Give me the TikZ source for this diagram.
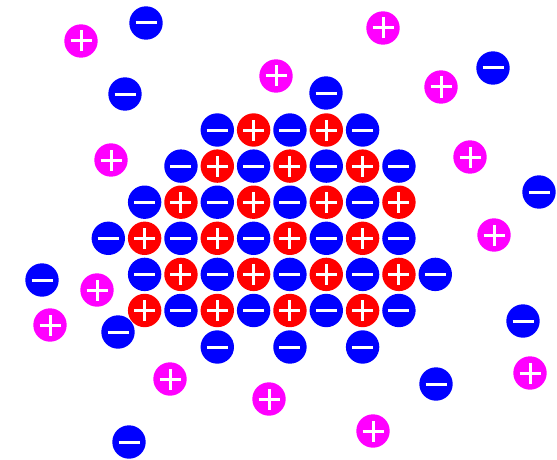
\documentclass[tikz,border=0pt]{standalone}
\usetikzlibrary{calc}
\definecolor{ionblue}{RGB}{0,0,255}\definecolor{ionred}{RGB}{255,0,0}\definecolor{ionmag}{RGB}{255,0,255}
\tikzset{ion/.style={circle,inner sep=0pt,minimum size=33.4pt},sgn/.style={white,line width=3pt},
minussign/.style={path picture={\draw[sgn] (path picture bounding box.center) +(-10.5pt,0) -- +(10.5pt,0);}},
plussign/.style={path picture={\draw[sgn] (path picture bounding box.center) +(-10.5pt,0) -- +(10.5pt,0) +(0,-10.5pt) -- +(0,10.5pt);}},
negion/.style={ion,fill=ionblue,minussign},cation/.style={ion,fill=ionred,plussign},freeion/.style={ion,fill=ionmag,plussign},
q0/.style=negion,q1/.style=cation}

\begin{document}
\begin{tikzpicture}[x=1pt,y=-1pt]
\useasboundingbox (0,0) rectangle (557,460);
\foreach \r/\a/\b in {1/3/7,2/2/8,3/1/8,4/0/8,5/1/9,6/1/8}{\foreach \c [evaluate=\c as \s using {int(mod(\r+\c,2))}] in {\a,...,\b}{\node[q\s] (l\r-\c) at ({108.3+36.33*\c},{130+36.1*(\r-1)}){};}}
\foreach \c in {3,5,7}{\node[q0] (l7-\c) at ({108.3+36.33*\c},347){};}
\foreach \x/\y [count=\i] in {146/23,125/94,326/93,493/68,539/192,42/280,118/332,523/321,436/384,129/442}{\node[negion] (fn\i) at (\x,\y){};}
\foreach \x/\y [count=\i] in {81/41,276/76,383/28,441/87,111/160,470/157,494/235,97/290,50/325,170/379,269/399,530/373,373/431}{\node[freeion] (fp\i) at (\x,\y){};}
\end{tikzpicture}
\end{document}
